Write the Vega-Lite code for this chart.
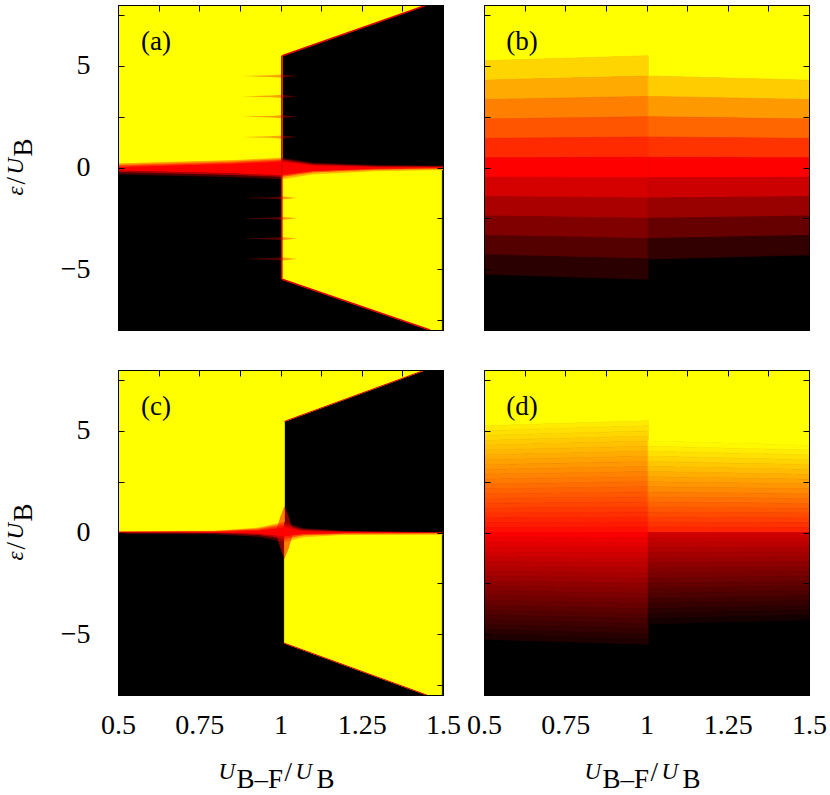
{
"$schema":"https://vega.github.io/schema/vega-lite/v6.json",
"background":"white",
"padding":{"left":2,"top":0,"right":5,"bottom":0},
"config":{"view":{"fill":"#000000","stroke":"#000000","strokeWidth":1},
"axis":{"labelFont":"Liberation Serif","labelFontSize":28,"labelColor":"#000000","labelFlush":false,"labelOverlap":false,"tickSize":-6,"tickColor":"#000000","tickWidth":1,"domain":true,"domainColor":"#000000","domainWidth":1,"grid":false}},
"datasets":{
"aFill":[
{"g":"T","x":0.5,"y":8,"y2":0,"v":1},{"g":"T","x":1.005,"y":8,"y2":0,"v":1},{"g":"T","x":1.005,"y":8,"y2":5.5,"v":1},{"g":"T","x":1.45,"y":8,"y2":8,"v":1},
{"g":"BR","x":1.005,"y":0,"y2":-5.5,"v":1},{"g":"BR","x":1.46,"y":0,"y2":-8,"v":1},{"g":"BR","x":1.496,"y":0,"y2":-8,"v":1}],
"aBand":[
{"g":"L1","x":0.5,"y":0.18,"y2":0.10,"v":0.8},{"g":"L1","x":0.85,"y":0.34,"y2":0.26,"v":0.8},{"g":"L1","x":1.005,"y":0.46,"y2":0.38,"v":0.8},
{"g":"L2","x":0.5,"y":0.10,"y2":0.02,"v":0.62},{"g":"L2","x":0.85,"y":0.26,"y2":0.18,"v":0.62},{"g":"L2","x":1.005,"y":0.38,"y2":0.30,"v":0.62},
{"g":"L3","x":0.5,"y":0.02,"y2":-0.16,"v":0.5},{"g":"L3","x":0.85,"y":0.18,"y2":-0.30,"v":0.5},{"g":"L3","x":1.005,"y":0.30,"y2":-0.40,"v":0.5},
{"g":"L4","x":0.5,"y":-0.16,"y2":-0.24,"v":0.35},{"g":"L4","x":0.85,"y":-0.30,"y2":-0.38,"v":0.35},{"g":"L4","x":1.005,"y":-0.40,"y2":-0.48,"v":0.35},
{"g":"L5","x":0.5,"y":-0.24,"y2":-0.32,"v":0.15},{"g":"L5","x":0.85,"y":-0.38,"y2":-0.46,"v":0.15},{"g":"L5","x":1.005,"y":-0.48,"y2":-0.56,"v":0.15},
{"g":"R1","x":1.005,"y":0.46,"y2":0.38,"v":0.15},{"g":"R1","x":1.1,"y":0.22,"y2":0.16,"v":0.15},{"g":"R1","x":1.3,"y":0.10,"y2":0.06,"v":0.15},{"g":"R1","x":1.5,"y":0.07,"y2":0.04,"v":0.15},
{"g":"R2","x":1.005,"y":0.38,"y2":0.30,"v":0.35},{"g":"R2","x":1.1,"y":0.16,"y2":0.10,"v":0.35},{"g":"R2","x":1.3,"y":0.06,"y2":0.02,"v":0.35},{"g":"R2","x":1.5,"y":0.04,"y2":0.01,"v":0.35},
{"g":"R3","x":1.005,"y":0.30,"y2":-0.40,"v":0.5},{"g":"R3","x":1.1,"y":0.10,"y2":-0.20,"v":0.5},{"g":"R3","x":1.3,"y":0.02,"y2":-0.08,"v":0.5},{"g":"R3","x":1.5,"y":0.01,"y2":-0.05,"v":0.5},
{"g":"R4","x":1.005,"y":-0.40,"y2":-0.48,"v":0.65},{"g":"R4","x":1.1,"y":-0.20,"y2":-0.26,"v":0.65},{"g":"R4","x":1.3,"y":-0.08,"y2":-0.12,"v":0.65},{"g":"R4","x":1.5,"y":-0.05,"y2":-0.08,"v":0.65},
{"g":"R5","x":1.005,"y":-0.48,"y2":-0.56,"v":0.85},{"g":"R5","x":1.1,"y":-0.26,"y2":-0.32,"v":0.85},{"g":"R5","x":1.3,"y":-0.12,"y2":-0.16,"v":0.85},{"g":"R5","x":1.5,"y":-0.08,"y2":-0.11,"v":0.85}],
"aSpike":[
{"g":"S1","x":0.88,"y":4.5,"y2":4.5,"v":0.45},{"g":"S1","x":0.97,"y":4.54,"y2":4.46,"v":0.45},{"g":"S1","x":1.005,"y":4.58,"y2":4.42,"v":0.45},{"g":"S1","x":1.05,"y":4.5,"y2":4.5,"v":0.45},
{"g":"S2","x":0.88,"y":3.5,"y2":3.5,"v":0.45},{"g":"S2","x":0.97,"y":3.54,"y2":3.46,"v":0.45},{"g":"S2","x":1.005,"y":3.58,"y2":3.42,"v":0.45},{"g":"S2","x":1.05,"y":3.5,"y2":3.5,"v":0.45},
{"g":"S3","x":0.88,"y":2.5,"y2":2.5,"v":0.45},{"g":"S3","x":0.97,"y":2.54,"y2":2.46,"v":0.45},{"g":"S3","x":1.005,"y":2.58,"y2":2.42,"v":0.45},{"g":"S3","x":1.05,"y":2.5,"y2":2.5,"v":0.45},
{"g":"S4","x":0.88,"y":1.5,"y2":1.5,"v":0.45},{"g":"S4","x":0.97,"y":1.54,"y2":1.46,"v":0.45},{"g":"S4","x":1.005,"y":1.58,"y2":1.42,"v":0.45},{"g":"S4","x":1.05,"y":1.5,"y2":1.5,"v":0.45},
{"g":"S5","x":0.88,"y":-1.5,"y2":-1.5,"v":0.45},{"g":"S5","x":0.97,"y":-1.46,"y2":-1.54,"v":0.45},{"g":"S5","x":1.005,"y":-1.42,"y2":-1.58,"v":0.45},{"g":"S5","x":1.05,"y":-1.5,"y2":-1.5,"v":0.45},
{"g":"S6","x":0.88,"y":-2.5,"y2":-2.5,"v":0.45},{"g":"S6","x":0.97,"y":-2.46,"y2":-2.54,"v":0.45},{"g":"S6","x":1.005,"y":-2.42,"y2":-2.58,"v":0.45},{"g":"S6","x":1.05,"y":-2.5,"y2":-2.5,"v":0.45},
{"g":"S7","x":0.88,"y":-3.5,"y2":-3.5,"v":0.45},{"g":"S7","x":0.97,"y":-3.46,"y2":-3.54,"v":0.45},{"g":"S7","x":1.005,"y":-3.42,"y2":-3.58,"v":0.45},{"g":"S7","x":1.05,"y":-3.5,"y2":-3.5,"v":0.45},
{"g":"S8","x":0.88,"y":-4.5,"y2":-4.5,"v":0.45},{"g":"S8","x":0.97,"y":-4.46,"y2":-4.54,"v":0.45},{"g":"S8","x":1.005,"y":-4.42,"y2":-4.58,"v":0.45},{"g":"S8","x":1.05,"y":-4.5,"y2":-4.5,"v":0.45}],
"aEdge":[
{"g":"V","x":1.004,"y":5.5},{"g":"V","x":1.004,"y":-5.5},
{"g":"DT","x":1.005,"y":5.5},{"g":"DT","x":1.45,"y":8},
{"g":"DB","x":1.005,"y":-5.5},{"g":"DB","x":1.46,"y":-8}],
"cFill":[
{"g":"T","x":0.5,"y":8,"y2":0,"v":1},{"g":"T","x":1.012,"y":8,"y2":0,"v":1},{"g":"T","x":1.012,"y":8,"y2":5.47,"v":1},{"g":"T","x":1.445,"y":8,"y2":8,"v":1},
{"g":"BR","x":1.012,"y":0,"y2":-5.45,"v":1},{"g":"BR","x":1.45,"y":0,"y2":-8,"v":1},{"g":"BR","x":1.496,"y":0,"y2":-8,"v":1}],
"cBand":[
{"g":"L1","x":0.5,"y":0.04,"y2":0.025,"v":0.8},{"g":"L1","x":0.8,"y":0.07,"y2":0.05,"v":0.8},{"g":"L1","x":0.93,"y":0.22,"y2":0.16,"v":0.8},{"g":"L1","x":1.012,"y":0.5,"y2":0.38,"v":0.8},
{"g":"L2","x":0.5,"y":0.025,"y2":0.01,"v":0.62},{"g":"L2","x":0.8,"y":0.05,"y2":0.03,"v":0.62},{"g":"L2","x":0.93,"y":0.16,"y2":0.10,"v":0.62},{"g":"L2","x":1.012,"y":0.38,"y2":0.26,"v":0.62},
{"g":"L3","x":0.5,"y":0.01,"y2":-0.01,"v":0.5},{"g":"L3","x":0.8,"y":0.03,"y2":-0.03,"v":0.5},{"g":"L3","x":0.93,"y":0.10,"y2":-0.08,"v":0.5},{"g":"L3","x":1.012,"y":0.26,"y2":-0.21,"v":0.5},
{"g":"L4","x":0.5,"y":-0.01,"y2":-0.025,"v":0.35},{"g":"L4","x":0.8,"y":-0.03,"y2":-0.05,"v":0.35},{"g":"L4","x":0.93,"y":-0.08,"y2":-0.14,"v":0.35},{"g":"L4","x":1.012,"y":-0.21,"y2":-0.33,"v":0.35},
{"g":"L5","x":0.5,"y":-0.025,"y2":-0.04,"v":0.15},{"g":"L5","x":0.8,"y":-0.05,"y2":-0.07,"v":0.15},{"g":"L5","x":0.93,"y":-0.14,"y2":-0.20,"v":0.15},{"g":"L5","x":1.012,"y":-0.33,"y2":-0.45,"v":0.15},
{"g":"R1","x":1.012,"y":0.5,"y2":0.38,"v":0.15},{"g":"R1","x":1.07,"y":0.2,"y2":0.14,"v":0.15},{"g":"R1","x":1.2,"y":0.06,"y2":0.04,"v":0.15},{"g":"R1","x":1.5,"y":0.0,"y2":-0.015,"v":0.15},
{"g":"R2","x":1.012,"y":0.38,"y2":0.26,"v":0.35},{"g":"R2","x":1.07,"y":0.14,"y2":0.08,"v":0.35},{"g":"R2","x":1.2,"y":0.04,"y2":0.02,"v":0.35},{"g":"R2","x":1.5,"y":-0.015,"y2":-0.03,"v":0.35},
{"g":"R3","x":1.012,"y":0.26,"y2":-0.21,"v":0.5},{"g":"R3","x":1.07,"y":0.08,"y2":-0.1,"v":0.5},{"g":"R3","x":1.2,"y":0.02,"y2":-0.06,"v":0.5},{"g":"R3","x":1.5,"y":-0.03,"y2":-0.05,"v":0.5},
{"g":"R4","x":1.012,"y":-0.21,"y2":-0.33,"v":0.65},{"g":"R4","x":1.07,"y":-0.1,"y2":-0.16,"v":0.65},{"g":"R4","x":1.2,"y":-0.06,"y2":-0.08,"v":0.65},{"g":"R4","x":1.5,"y":-0.05,"y2":-0.065,"v":0.65},
{"g":"R5","x":1.012,"y":-0.33,"y2":-0.45,"v":0.85},{"g":"R5","x":1.07,"y":-0.16,"y2":-0.22,"v":0.85},{"g":"R5","x":1.2,"y":-0.08,"y2":-0.1,"v":0.85},{"g":"R5","x":1.5,"y":-0.065,"y2":-0.08,"v":0.85}],
"cGlow":[
{"g":"VG","x":0.985,"y":0,"y2":0,"v":0.5},{"g":"VG","x":1.0,"y":0.8,"y2":-0.8,"v":0.5},{"g":"VG","x":1.012,"y":1.3,"y2":-1.3,"v":0.5},{"g":"VG","x":1.025,"y":0.8,"y2":-0.8,"v":0.5},{"g":"VG","x":1.04,"y":0,"y2":0,"v":0.5}],
"cEdge":[
{"g":"DT","x":1.012,"y":5.47},{"g":"DT","x":1.445,"y":8},
{"g":"DB","x":1.012,"y":-5.45},{"g":"DB","x":1.45,"y":-8}],
"bFill":[
{"g":"Y","x":0.5,"y":8,"y2":5.253,"v":1},{"g":"Y","x":1.005,"y":8,"y2":5.5,"v":1},{"g":"Y","x":1.005,"y":8,"y2":4.5,"v":1},{"g":"Y","x":1.5,"y":8,"y2":4.298,"v":1},
{"g":"L01","x":0.5,"y":5.253,"y2":4.298,"v":0.917},{"g":"L01","x":1.005,"y":5.5,"y2":4.5,"v":0.917},
{"g":"L02","x":0.5,"y":4.298,"y2":3.343,"v":0.833},{"g":"L02","x":1.005,"y":4.5,"y2":3.5,"v":0.833},
{"g":"L03","x":0.5,"y":3.343,"y2":2.388,"v":0.75},{"g":"L03","x":1.005,"y":3.5,"y2":2.5,"v":0.75},
{"g":"L04","x":0.5,"y":2.388,"y2":1.433,"v":0.667},{"g":"L04","x":1.005,"y":2.5,"y2":1.5,"v":0.667},
{"g":"L05","x":0.5,"y":1.433,"y2":0.478,"v":0.583},{"g":"L05","x":1.005,"y":1.5,"y2":0.5,"v":0.583},
{"g":"L06","x":0.5,"y":0.478,"y2":-0.478,"v":0.5},{"g":"L06","x":1.005,"y":0.5,"y2":-0.5,"v":0.5},
{"g":"L07","x":0.5,"y":-0.478,"y2":-1.433,"v":0.417},{"g":"L07","x":1.005,"y":-0.5,"y2":-1.5,"v":0.417},
{"g":"L08","x":0.5,"y":-1.433,"y2":-2.388,"v":0.333},{"g":"L08","x":1.005,"y":-1.5,"y2":-2.5,"v":0.333},
{"g":"L09","x":0.5,"y":-2.388,"y2":-3.343,"v":0.25},{"g":"L09","x":1.005,"y":-2.5,"y2":-3.5,"v":0.25},
{"g":"L10","x":0.5,"y":-3.343,"y2":-4.298,"v":0.167},{"g":"L10","x":1.005,"y":-3.5,"y2":-4.5,"v":0.167},
{"g":"L11","x":0.5,"y":-4.298,"y2":-5.253,"v":0.083},{"g":"L11","x":1.005,"y":-4.5,"y2":-5.5,"v":0.083},
{"g":"R1","x":1.005,"y":4.5,"y2":3.5,"v":0.9},{"g":"R1","x":1.5,"y":4.298,"y2":3.343,"v":0.9},
{"g":"R2","x":1.005,"y":3.5,"y2":2.5,"v":0.8},{"g":"R2","x":1.5,"y":3.343,"y2":2.388,"v":0.8},
{"g":"R3","x":1.005,"y":2.5,"y2":1.5,"v":0.7},{"g":"R3","x":1.5,"y":2.388,"y2":1.433,"v":0.7},
{"g":"R4","x":1.005,"y":1.5,"y2":0.5,"v":0.6},{"g":"R4","x":1.5,"y":1.433,"y2":0.478,"v":0.6},
{"g":"R5","x":1.005,"y":0.5,"y2":-0.5,"v":0.5},{"g":"R5","x":1.5,"y":0.478,"y2":-0.478,"v":0.5},
{"g":"R6","x":1.005,"y":-0.5,"y2":-1.5,"v":0.4},{"g":"R6","x":1.5,"y":-0.478,"y2":-1.433,"v":0.4},
{"g":"R7","x":1.005,"y":-1.5,"y2":-2.5,"v":0.3},{"g":"R7","x":1.5,"y":-1.433,"y2":-2.388,"v":0.3},
{"g":"R8","x":1.005,"y":-2.5,"y2":-3.5,"v":0.2},{"g":"R8","x":1.5,"y":-2.388,"y2":-3.343,"v":0.2},
{"g":"R9","x":1.005,"y":-3.5,"y2":-4.5,"v":0.1},{"g":"R9","x":1.5,"y":-3.343,"y2":-4.298,"v":0.1}],
"dFill":[
{"g":"Y","x":0.5,"y":8,"y2":5.253,"v":1},{"g":"Y","x":1.005,"y":8,"y2":5.5,"v":1},{"g":"Y","x":1.005,"y":8,"y2":4.5,"v":1},{"g":"Y","x":1.5,"y":8,"y2":4.298,"v":1},
{"g":"L01","x":0.5,"y":5.253,"y2":5.014,"v":0.960},{"g":"L01","x":1.005,"y":5.5,"y2":5.25,"v":0.960},
{"g":"L02","x":0.5,"y":5.014,"y2":4.775,"v":0.939},{"g":"L02","x":1.005,"y":5.25,"y2":5.0,"v":0.939},
{"g":"L03","x":0.5,"y":4.775,"y2":4.536,"v":0.919},{"g":"L03","x":1.005,"y":5.0,"y2":4.75,"v":0.919},
{"g":"L04","x":0.5,"y":4.536,"y2":4.298,"v":0.898},{"g":"L04","x":1.005,"y":4.75,"y2":4.5,"v":0.898},
{"g":"L05","x":0.5,"y":4.298,"y2":4.059,"v":0.878},{"g":"L05","x":1.005,"y":4.5,"y2":4.25,"v":0.878},
{"g":"L06","x":0.5,"y":4.059,"y2":3.82,"v":0.858},{"g":"L06","x":1.005,"y":4.25,"y2":4.0,"v":0.858},
{"g":"L07","x":0.5,"y":3.82,"y2":3.581,"v":0.837},{"g":"L07","x":1.005,"y":4.0,"y2":3.75,"v":0.837},
{"g":"L08","x":0.5,"y":3.581,"y2":3.343,"v":0.817},{"g":"L08","x":1.005,"y":3.75,"y2":3.5,"v":0.817},
{"g":"L09","x":0.5,"y":3.343,"y2":3.104,"v":0.796},{"g":"L09","x":1.005,"y":3.5,"y2":3.25,"v":0.796},
{"g":"L10","x":0.5,"y":3.104,"y2":2.865,"v":0.776},{"g":"L10","x":1.005,"y":3.25,"y2":3.0,"v":0.776},
{"g":"L11","x":0.5,"y":2.865,"y2":2.626,"v":0.755},{"g":"L11","x":1.005,"y":3.0,"y2":2.75,"v":0.755},
{"g":"L12","x":0.5,"y":2.626,"y2":2.388,"v":0.735},{"g":"L12","x":1.005,"y":2.75,"y2":2.5,"v":0.735},
{"g":"L13","x":0.5,"y":2.388,"y2":2.149,"v":0.714},{"g":"L13","x":1.005,"y":2.5,"y2":2.25,"v":0.714},
{"g":"L14","x":0.5,"y":2.149,"y2":1.91,"v":0.694},{"g":"L14","x":1.005,"y":2.25,"y2":2.0,"v":0.694},
{"g":"L15","x":0.5,"y":1.91,"y2":1.671,"v":0.673},{"g":"L15","x":1.005,"y":2.0,"y2":1.75,"v":0.673},
{"g":"L16","x":0.5,"y":1.671,"y2":1.433,"v":0.653},{"g":"L16","x":1.005,"y":1.75,"y2":1.5,"v":0.653},
{"g":"L17","x":0.5,"y":1.433,"y2":1.194,"v":0.633},{"g":"L17","x":1.005,"y":1.5,"y2":1.25,"v":0.633},
{"g":"L18","x":0.5,"y":1.194,"y2":0.955,"v":0.612},{"g":"L18","x":1.005,"y":1.25,"y2":1.0,"v":0.612},
{"g":"L19","x":0.5,"y":0.955,"y2":0.716,"v":0.592},{"g":"L19","x":1.005,"y":1.0,"y2":0.75,"v":0.592},
{"g":"L20","x":0.5,"y":0.716,"y2":0.478,"v":0.571},{"g":"L20","x":1.005,"y":0.75,"y2":0.5,"v":0.571},
{"g":"L21","x":0.5,"y":0.478,"y2":0.239,"v":0.551},{"g":"L21","x":1.005,"y":0.5,"y2":0.25,"v":0.551},
{"g":"L22","x":0.5,"y":0.239,"y2":0,"v":0.530},{"g":"L22","x":1.005,"y":0.25,"y2":0,"v":0.530},
{"g":"L23","x":0.5,"y":0,"y2":-0.239,"v":0.490},{"g":"L23","x":1.005,"y":0,"y2":-0.25,"v":0.490},
{"g":"L24","x":0.5,"y":-0.239,"y2":-0.478,"v":0.469},{"g":"L24","x":1.005,"y":-0.25,"y2":-0.5,"v":0.469},
{"g":"L25","x":0.5,"y":-0.478,"y2":-0.716,"v":0.449},{"g":"L25","x":1.005,"y":-0.5,"y2":-0.75,"v":0.449},
{"g":"L26","x":0.5,"y":-0.716,"y2":-0.955,"v":0.428},{"g":"L26","x":1.005,"y":-0.75,"y2":-1.0,"v":0.428},
{"g":"L27","x":0.5,"y":-0.955,"y2":-1.194,"v":0.408},{"g":"L27","x":1.005,"y":-1.0,"y2":-1.25,"v":0.408},
{"g":"L28","x":0.5,"y":-1.194,"y2":-1.433,"v":0.387},{"g":"L28","x":1.005,"y":-1.25,"y2":-1.5,"v":0.387},
{"g":"L29","x":0.5,"y":-1.433,"y2":-1.671,"v":0.367},{"g":"L29","x":1.005,"y":-1.5,"y2":-1.75,"v":0.367},
{"g":"L30","x":0.5,"y":-1.671,"y2":-1.91,"v":0.347},{"g":"L30","x":1.005,"y":-1.75,"y2":-2.0,"v":0.347},
{"g":"L31","x":0.5,"y":-1.91,"y2":-2.149,"v":0.326},{"g":"L31","x":1.005,"y":-2.0,"y2":-2.25,"v":0.326},
{"g":"L32","x":0.5,"y":-2.149,"y2":-2.388,"v":0.306},{"g":"L32","x":1.005,"y":-2.25,"y2":-2.5,"v":0.306},
{"g":"L33","x":0.5,"y":-2.388,"y2":-2.626,"v":0.285},{"g":"L33","x":1.005,"y":-2.5,"y2":-2.75,"v":0.285},
{"g":"L34","x":0.5,"y":-2.626,"y2":-2.865,"v":0.265},{"g":"L34","x":1.005,"y":-2.75,"y2":-3.0,"v":0.265},
{"g":"L35","x":0.5,"y":-2.865,"y2":-3.104,"v":0.244},{"g":"L35","x":1.005,"y":-3.0,"y2":-3.25,"v":0.244},
{"g":"L36","x":0.5,"y":-3.104,"y2":-3.343,"v":0.224},{"g":"L36","x":1.005,"y":-3.25,"y2":-3.5,"v":0.224},
{"g":"L37","x":0.5,"y":-3.343,"y2":-3.581,"v":0.203},{"g":"L37","x":1.005,"y":-3.5,"y2":-3.75,"v":0.203},
{"g":"L38","x":0.5,"y":-3.581,"y2":-3.82,"v":0.183},{"g":"L38","x":1.005,"y":-3.75,"y2":-4.0,"v":0.183},
{"g":"L39","x":0.5,"y":-3.82,"y2":-4.059,"v":0.162},{"g":"L39","x":1.005,"y":-4.0,"y2":-4.25,"v":0.162},
{"g":"L40","x":0.5,"y":-4.059,"y2":-4.298,"v":0.142},{"g":"L40","x":1.005,"y":-4.25,"y2":-4.5,"v":0.142},
{"g":"L41","x":0.5,"y":-4.298,"y2":-4.536,"v":0.122},{"g":"L41","x":1.005,"y":-4.5,"y2":-4.75,"v":0.122},
{"g":"L42","x":0.5,"y":-4.536,"y2":-4.775,"v":0.101},{"g":"L42","x":1.005,"y":-4.75,"y2":-5.0,"v":0.101},
{"g":"L43","x":0.5,"y":-4.775,"y2":-5.014,"v":0.081},{"g":"L43","x":1.005,"y":-5.0,"y2":-5.25,"v":0.081},
{"g":"L44","x":0.5,"y":-5.014,"y2":-5.253,"v":0.060},{"g":"L44","x":1.005,"y":-5.25,"y2":-5.5,"v":0.060},
{"g":"R01","x":1.005,"y":4.5,"y2":4.25,"v":0.988},{"g":"R01","x":1.5,"y":4.298,"y2":4.059,"v":0.988},
{"g":"R02","x":1.005,"y":4.25,"y2":4.0,"v":0.963},{"g":"R02","x":1.5,"y":4.059,"y2":3.82,"v":0.963},
{"g":"R03","x":1.005,"y":4.0,"y2":3.75,"v":0.939},{"g":"R03","x":1.5,"y":3.82,"y2":3.581,"v":0.939},
{"g":"R04","x":1.005,"y":3.75,"y2":3.5,"v":0.915},{"g":"R04","x":1.5,"y":3.581,"y2":3.343,"v":0.915},
{"g":"R05","x":1.005,"y":3.5,"y2":3.25,"v":0.890},{"g":"R05","x":1.5,"y":3.343,"y2":3.104,"v":0.890},
{"g":"R06","x":1.005,"y":3.25,"y2":3.0,"v":0.866},{"g":"R06","x":1.5,"y":3.104,"y2":2.865,"v":0.866},
{"g":"R07","x":1.005,"y":3.0,"y2":2.75,"v":0.841},{"g":"R07","x":1.5,"y":2.865,"y2":2.626,"v":0.841},
{"g":"R08","x":1.005,"y":2.75,"y2":2.5,"v":0.817},{"g":"R08","x":1.5,"y":2.626,"y2":2.388,"v":0.817},
{"g":"R09","x":1.005,"y":2.5,"y2":2.25,"v":0.792},{"g":"R09","x":1.5,"y":2.388,"y2":2.149,"v":0.792},
{"g":"R10","x":1.005,"y":2.25,"y2":2.0,"v":0.768},{"g":"R10","x":1.5,"y":2.149,"y2":1.91,"v":0.768},
{"g":"R11","x":1.005,"y":2.0,"y2":1.75,"v":0.743},{"g":"R11","x":1.5,"y":1.91,"y2":1.671,"v":0.743},
{"g":"R12","x":1.005,"y":1.75,"y2":1.5,"v":0.719},{"g":"R12","x":1.5,"y":1.671,"y2":1.433,"v":0.719},
{"g":"R13","x":1.005,"y":1.5,"y2":1.25,"v":0.694},{"g":"R13","x":1.5,"y":1.433,"y2":1.194,"v":0.694},
{"g":"R14","x":1.005,"y":1.25,"y2":1.0,"v":0.670},{"g":"R14","x":1.5,"y":1.194,"y2":0.955,"v":0.670},
{"g":"R15","x":1.005,"y":1.0,"y2":0.75,"v":0.646},{"g":"R15","x":1.5,"y":0.955,"y2":0.716,"v":0.646},
{"g":"R16","x":1.005,"y":0.75,"y2":0.5,"v":0.621},{"g":"R16","x":1.5,"y":0.716,"y2":0.478,"v":0.621},
{"g":"R17","x":1.005,"y":0.5,"y2":0.25,"v":0.597},{"g":"R17","x":1.5,"y":0.478,"y2":0.239,"v":0.597},
{"g":"R18","x":1.005,"y":0.25,"y2":0,"v":0.572},{"g":"R18","x":1.5,"y":0.239,"y2":0,"v":0.572},
{"g":"R19","x":1.005,"y":0,"y2":-0.25,"v":0.409},{"g":"R19","x":1.5,"y":0,"y2":-0.239,"v":0.409},
{"g":"R20","x":1.005,"y":-0.25,"y2":-0.5,"v":0.387},{"g":"R20","x":1.5,"y":-0.239,"y2":-0.478,"v":0.387},
{"g":"R21","x":1.005,"y":-0.5,"y2":-0.75,"v":0.366},{"g":"R21","x":1.5,"y":-0.478,"y2":-0.716,"v":0.366},
{"g":"R22","x":1.005,"y":-0.75,"y2":-1.0,"v":0.344},{"g":"R22","x":1.5,"y":-0.716,"y2":-0.955,"v":0.344},
{"g":"R23","x":1.005,"y":-1.0,"y2":-1.25,"v":0.322},{"g":"R23","x":1.5,"y":-0.955,"y2":-1.194,"v":0.322},
{"g":"R24","x":1.005,"y":-1.25,"y2":-1.5,"v":0.301},{"g":"R24","x":1.5,"y":-1.194,"y2":-1.433,"v":0.301},
{"g":"R25","x":1.005,"y":-1.5,"y2":-1.75,"v":0.279},{"g":"R25","x":1.5,"y":-1.433,"y2":-1.671,"v":0.279},
{"g":"R26","x":1.005,"y":-1.75,"y2":-2.0,"v":0.257},{"g":"R26","x":1.5,"y":-1.671,"y2":-1.91,"v":0.257},
{"g":"R27","x":1.005,"y":-2.0,"y2":-2.25,"v":0.236},{"g":"R27","x":1.5,"y":-1.91,"y2":-2.149,"v":0.236},
{"g":"R28","x":1.005,"y":-2.25,"y2":-2.5,"v":0.214},{"g":"R28","x":1.5,"y":-2.149,"y2":-2.388,"v":0.214},
{"g":"R29","x":1.005,"y":-2.5,"y2":-2.75,"v":0.192},{"g":"R29","x":1.5,"y":-2.388,"y2":-2.626,"v":0.192},
{"g":"R30","x":1.005,"y":-2.75,"y2":-3.0,"v":0.171},{"g":"R30","x":1.5,"y":-2.626,"y2":-2.865,"v":0.171},
{"g":"R31","x":1.005,"y":-3.0,"y2":-3.25,"v":0.149},{"g":"R31","x":1.5,"y":-2.865,"y2":-3.104,"v":0.149},
{"g":"R32","x":1.005,"y":-3.25,"y2":-3.5,"v":0.127},{"g":"R32","x":1.5,"y":-3.104,"y2":-3.343,"v":0.127},
{"g":"R33","x":1.005,"y":-3.5,"y2":-3.75,"v":0.106},{"g":"R33","x":1.5,"y":-3.343,"y2":-3.581,"v":0.106},
{"g":"R34","x":1.005,"y":-3.75,"y2":-4.0,"v":0.084},{"g":"R34","x":1.5,"y":-3.581,"y2":-3.82,"v":0.084},
{"g":"R35","x":1.005,"y":-4.0,"y2":-4.25,"v":0.062},{"g":"R35","x":1.5,"y":-3.82,"y2":-4.059,"v":0.062},
{"g":"R36","x":1.005,"y":-4.25,"y2":-4.5,"v":0.041},{"g":"R36","x":1.5,"y":-4.059,"y2":-4.298,"v":0.041}]
},
"columns":2,
"spacing":{"row":40,"column":41},
"bounds":"flush",
"concat":[
{"width":325,"height":325,
"layer":[
{"data":{"name":"aFill"},"mark":{"type":"area","clip":true,"strokeWidth":0.8},
"encoding":{"x":{"field":"x","type":"quantitative","scale":{"domain":[0.5,1.5],"nice":false,"zero":false},"axis":{"orient":"bottom","values":[0.5,0.625,0.75,0.875,1,1.125,1.25,1.375,1.5],"labels":false,"title":null,"zindex":1}},
"y":{"field":"y","type":"quantitative","stack":null,"scale":{"domain":[-8,8],"nice":false,"zero":false},"axis":{"orient":"left","values":[-7.5,-5,-2.5,0,2.5,5,7.5],"labelExpr":"datum.value % 5 == 0 ? format(datum.value, '~g') : ''","labelPadding":34,"title":null,"zindex":1}},
"y2":{"field":"y2"},
"color":{"field":"v","type":"quantitative","scale":{"domain":[0,0.5,1],"range":["#000000","#ff0000","#ffff00"],"interpolate":"rgb"},"legend":null},
"stroke":{"field":"v","type":"quantitative","scale":{"domain":[0,0.5,1],"range":["#000000","#ff0000","#ffff00"],"interpolate":"rgb"},"legend":null},
"detail":{"field":"g"}}},
{"data":{"name":"aBand"},"mark":{"type":"area","clip":true,"strokeWidth":0.6},
"encoding":{"x":{"field":"x","type":"quantitative","axis":null},"y":{"field":"y","type":"quantitative","stack":null,"axis":null},"y2":{"field":"y2"},
"color":{"field":"v","type":"quantitative","legend":null},"stroke":{"field":"v","type":"quantitative","legend":null},"detail":{"field":"g"}}},
{"data":{"name":"aSpike"},"mark":{"type":"area","clip":true,"opacity":0.35},
"encoding":{"x":{"field":"x","type":"quantitative","axis":null},"y":{"field":"y","type":"quantitative","stack":null,"axis":null},"y2":{"field":"y2"},
"color":{"field":"v","type":"quantitative","legend":null},"detail":{"field":"g"}}},
{"data":{"name":"aEdge"},"mark":{"type":"line","clip":true,"color":"#dd0000","strokeWidth":1.5},
"encoding":{"x":{"field":"x","type":"quantitative","axis":null},"y":{"field":"y","type":"quantitative","axis":null},"detail":{"field":"g"}}},
{"data":{"values":[{"t":"(a)"}]},"mark":{"type":"text","font":"Liberation Serif","fontSize":27,"align":"center","baseline":"middle","color":"#000000"},
"encoding":{"text":{"field":"t"},"x":{"datum":0.617,"type":"quantitative","axis":{"orient":"top","values":[0.5,0.625,0.75,0.875,1,1.125,1.25,1.375,1.5],"labels":false,"title":null,"zindex":1}},
"y":{"datum":6.2,"type":"quantitative","axis":{"orient":"right","values":[-7.5,-5,-2.5,0,2.5,5,7.5],"labels":false,"title":null,"zindex":1}}}},
{"data":{"values":[{}]},"mark":{"type":"text","text":"ε","font":"Liberation Serif","fontStyle":"italic","fontSize":23,"angle":270,"align":"left","baseline":"alphabetic","dx":-28,"dy":-95,"color":"#000000"},
"encoding":{"x":{"datum":0.5,"type":"quantitative","axis":null},"y":{"datum":0,"type":"quantitative","axis":null}}},
{"data":{"values":[{}]},"mark":{"type":"text","text":"/","font":"Liberation Serif","fontSize":27,"angle":270,"align":"left","baseline":"alphabetic","dx":-17,"dy":-93,"color":"#000000"},
"encoding":{"x":{"datum":0.5,"type":"quantitative","axis":null},"y":{"datum":0,"type":"quantitative","axis":null}}},
{"data":{"values":[{}]},"mark":{"type":"text","text":"U","font":"Liberation Serif","fontStyle":"italic","fontSize":23,"angle":270,"align":"left","baseline":"alphabetic","dx":-7,"dy":-95,"color":"#000000"},
"encoding":{"x":{"datum":0.5,"type":"quantitative","axis":null},"y":{"datum":0,"type":"quantitative","axis":null}}},
{"data":{"values":[{}]},"mark":{"type":"text","text":"B","font":"Liberation Serif","fontSize":27,"angle":270,"align":"left","baseline":"alphabetic","dx":11,"dy":-86,"color":"#000000"},
"encoding":{"x":{"datum":0.5,"type":"quantitative","axis":null},"y":{"datum":0,"type":"quantitative","axis":null}}}
],
"resolve":{"axis":{"x":"independent","y":"independent"}}},
{"width":325,"height":325,
"layer":[
{"data":{"name":"bFill"},"mark":{"type":"area","clip":true,"strokeWidth":0.8},
"encoding":{"x":{"field":"x","type":"quantitative","scale":{"domain":[0.5,1.5],"nice":false,"zero":false},"axis":{"orient":"bottom","values":[0.5,0.625,0.75,0.875,1,1.125,1.25,1.375,1.5],"labels":false,"title":null,"zindex":1}},
"y":{"field":"y","type":"quantitative","stack":null,"scale":{"domain":[-8,8],"nice":false,"zero":false},"axis":{"orient":"left","values":[-7.5,-5,-2.5,0,2.5,5,7.5],"labels":false,"title":null,"zindex":1}},
"y2":{"field":"y2"},
"color":{"field":"v","type":"quantitative","scale":{"domain":[0,0.5,1],"range":["#000000","#ff0000","#ffff00"],"interpolate":"rgb"},"legend":null},
"stroke":{"field":"v","type":"quantitative","scale":{"domain":[0,0.5,1],"range":["#000000","#ff0000","#ffff00"],"interpolate":"rgb"},"legend":null},
"detail":{"field":"g"}}},
{"data":{"values":[{"t":"(b)"}]},"mark":{"type":"text","font":"Liberation Serif","fontSize":27,"align":"center","baseline":"middle","color":"#000000"},
"encoding":{"text":{"field":"t"},"x":{"datum":0.617,"type":"quantitative","axis":{"orient":"top","values":[0.5,0.625,0.75,0.875,1,1.125,1.25,1.375,1.5],"labels":false,"title":null,"zindex":1}},
"y":{"datum":6.2,"type":"quantitative","axis":{"orient":"right","values":[-7.5,-5,-2.5,0,2.5,5,7.5],"labels":false,"title":null,"zindex":1}}}}
],
"resolve":{"axis":{"x":"independent","y":"independent"}}},
{"width":325,"height":325,
"layer":[
{"data":{"name":"cFill"},"mark":{"type":"area","clip":true,"strokeWidth":0.8},
"encoding":{"x":{"field":"x","type":"quantitative","scale":{"domain":[0.5,1.5],"nice":false,"zero":false},"axis":{"orient":"bottom","values":[0.5,0.625,0.75,0.875,1,1.125,1.25,1.375,1.5],"labelExpr":"(datum.value*4) % 1 == 0 ? format(datum.value, '~g') : ''","labelPadding":22,"title":null,"zindex":1}},
"y":{"field":"y","type":"quantitative","stack":null,"scale":{"domain":[-8,8],"nice":false,"zero":false},"axis":{"orient":"left","values":[-7.5,-5,-2.5,0,2.5,5,7.5],"labelExpr":"datum.value % 5 == 0 ? format(datum.value, '~g') : ''","labelPadding":34,"title":null,"zindex":1}},
"y2":{"field":"y2"},
"color":{"field":"v","type":"quantitative","scale":{"domain":[0,0.5,1],"range":["#000000","#ff0000","#ffff00"],"interpolate":"rgb"},"legend":null},
"stroke":{"field":"v","type":"quantitative","scale":{"domain":[0,0.5,1],"range":["#000000","#ff0000","#ffff00"],"interpolate":"rgb"},"legend":null},
"detail":{"field":"g"}}},
{"data":{"name":"cBand"},"mark":{"type":"area","clip":true,"strokeWidth":0.5},
"encoding":{"x":{"field":"x","type":"quantitative","axis":null},"y":{"field":"y","type":"quantitative","stack":null,"axis":null},"y2":{"field":"y2"},
"color":{"field":"v","type":"quantitative","legend":null},"stroke":{"field":"v","type":"quantitative","legend":null},"detail":{"field":"g"}}},
{"data":{"name":"cGlow"},"mark":{"type":"area","clip":true,"opacity":0.5},
"encoding":{"x":{"field":"x","type":"quantitative","axis":null},"y":{"field":"y","type":"quantitative","stack":null,"axis":null},"y2":{"field":"y2"},
"color":{"field":"v","type":"quantitative","legend":null},"detail":{"field":"g"}}},
{"data":{"name":"cEdge"},"mark":{"type":"line","clip":true,"color":"#dd0000","strokeWidth":1},
"encoding":{"x":{"field":"x","type":"quantitative","axis":null},"y":{"field":"y","type":"quantitative","axis":null},"detail":{"field":"g"}}},
{"data":{"values":[{"t":"(c)"}]},"mark":{"type":"text","font":"Liberation Serif","fontSize":27,"align":"center","baseline":"middle","color":"#000000"},
"encoding":{"text":{"field":"t"},"x":{"datum":0.617,"type":"quantitative","axis":{"orient":"top","values":[0.5,0.625,0.75,0.875,1,1.125,1.25,1.375,1.5],"labels":false,"title":null,"zindex":1}},
"y":{"datum":6.2,"type":"quantitative","axis":{"orient":"right","values":[-7.5,-5,-2.5,0,2.5,5,7.5],"labels":false,"title":null,"zindex":1}}}},
{"data":{"values":[{}]},"mark":{"type":"text","text":"ε","font":"Liberation Serif","fontStyle":"italic","fontSize":23,"angle":270,"align":"left","baseline":"alphabetic","dx":-28,"dy":-95,"color":"#000000"},
"encoding":{"x":{"datum":0.5,"type":"quantitative","axis":null},"y":{"datum":0,"type":"quantitative","axis":null}}},
{"data":{"values":[{}]},"mark":{"type":"text","text":"/","font":"Liberation Serif","fontSize":27,"angle":270,"align":"left","baseline":"alphabetic","dx":-17,"dy":-93,"color":"#000000"},
"encoding":{"x":{"datum":0.5,"type":"quantitative","axis":null},"y":{"datum":0,"type":"quantitative","axis":null}}},
{"data":{"values":[{}]},"mark":{"type":"text","text":"U","font":"Liberation Serif","fontStyle":"italic","fontSize":23,"angle":270,"align":"left","baseline":"alphabetic","dx":-7,"dy":-95,"color":"#000000"},
"encoding":{"x":{"datum":0.5,"type":"quantitative","axis":null},"y":{"datum":0,"type":"quantitative","axis":null}}},
{"data":{"values":[{}]},"mark":{"type":"text","text":"B","font":"Liberation Serif","fontSize":27,"angle":270,"align":"left","baseline":"alphabetic","dx":11,"dy":-86,"color":"#000000"},
"encoding":{"x":{"datum":0.5,"type":"quantitative","axis":null},"y":{"datum":0,"type":"quantitative","axis":null}}},
{"data":{"values":[{}]},"mark":{"type":"text","text":"U","font":"Liberation Serif","fontStyle":"italic","fontSize":23,"align":"left","baseline":"alphabetic","dx":-62,"dy":84,"color":"#000000"},
"encoding":{"x":{"datum":1,"type":"quantitative","axis":null},"y":{"datum":-8,"type":"quantitative","axis":null}}},
{"data":{"values":[{}]},"mark":{"type":"text","text":"B–F","font":"Liberation Serif","fontSize":27,"align":"left","baseline":"alphabetic","dx":-44,"dy":93,"color":"#000000"},
"encoding":{"x":{"datum":1,"type":"quantitative","axis":null},"y":{"datum":-8,"type":"quantitative","axis":null}}},
{"data":{"values":[{}]},"mark":{"type":"text","text":"/","font":"Liberation Serif","fontSize":27,"align":"left","baseline":"alphabetic","dx":4,"dy":86,"color":"#000000"},
"encoding":{"x":{"datum":1,"type":"quantitative","axis":null},"y":{"datum":-8,"type":"quantitative","axis":null}}},
{"data":{"values":[{}]},"mark":{"type":"text","text":"U","font":"Liberation Serif","fontStyle":"italic","fontSize":23,"align":"left","baseline":"alphabetic","dx":15,"dy":84,"color":"#000000"},
"encoding":{"x":{"datum":1,"type":"quantitative","axis":null},"y":{"datum":-8,"type":"quantitative","axis":null}}},
{"data":{"values":[{}]},"mark":{"type":"text","text":"B","font":"Liberation Serif","fontSize":27,"align":"left","baseline":"alphabetic","dx":36,"dy":93,"color":"#000000"},
"encoding":{"x":{"datum":1,"type":"quantitative","axis":null},"y":{"datum":-8,"type":"quantitative","axis":null}}}
],
"resolve":{"axis":{"x":"independent","y":"independent"}}},
{"width":325,"height":325,
"layer":[
{"data":{"name":"dFill"},"mark":{"type":"area","clip":true,"strokeWidth":0.8},
"encoding":{"x":{"field":"x","type":"quantitative","scale":{"domain":[0.5,1.5],"nice":false,"zero":false},"axis":{"orient":"bottom","values":[0.5,0.625,0.75,0.875,1,1.125,1.25,1.375,1.5],"labelExpr":"(datum.value*4) % 1 == 0 ? format(datum.value, '~g') : ''","labelPadding":22,"title":null,"zindex":1}},
"y":{"field":"y","type":"quantitative","stack":null,"scale":{"domain":[-8,8],"nice":false,"zero":false},"axis":{"orient":"left","values":[-7.5,-5,-2.5,0,2.5,5,7.5],"labels":false,"title":null,"zindex":1}},
"y2":{"field":"y2"},
"color":{"field":"v","type":"quantitative","scale":{"domain":[0,0.5,1],"range":["#000000","#ff0000","#ffff00"],"interpolate":"rgb"},"legend":null},
"stroke":{"field":"v","type":"quantitative","scale":{"domain":[0,0.5,1],"range":["#000000","#ff0000","#ffff00"],"interpolate":"rgb"},"legend":null},
"detail":{"field":"g"}}},
{"data":{"values":[{"t":"(d)"}]},"mark":{"type":"text","font":"Liberation Serif","fontSize":27,"align":"center","baseline":"middle","color":"#000000"},
"encoding":{"text":{"field":"t"},"x":{"datum":0.617,"type":"quantitative","axis":{"orient":"top","values":[0.5,0.625,0.75,0.875,1,1.125,1.25,1.375,1.5],"labels":false,"title":null,"zindex":1}},
"y":{"datum":6.2,"type":"quantitative","axis":{"orient":"right","values":[-7.5,-5,-2.5,0,2.5,5,7.5],"labels":false,"title":null,"zindex":1}}}},
{"data":{"values":[{}]},"mark":{"type":"text","text":"U","font":"Liberation Serif","fontStyle":"italic","fontSize":23,"align":"left","baseline":"alphabetic","dx":-62,"dy":84,"color":"#000000"},
"encoding":{"x":{"datum":1,"type":"quantitative","axis":null},"y":{"datum":-8,"type":"quantitative","axis":null}}},
{"data":{"values":[{}]},"mark":{"type":"text","text":"B–F","font":"Liberation Serif","fontSize":27,"align":"left","baseline":"alphabetic","dx":-44,"dy":93,"color":"#000000"},
"encoding":{"x":{"datum":1,"type":"quantitative","axis":null},"y":{"datum":-8,"type":"quantitative","axis":null}}},
{"data":{"values":[{}]},"mark":{"type":"text","text":"/","font":"Liberation Serif","fontSize":27,"align":"left","baseline":"alphabetic","dx":4,"dy":86,"color":"#000000"},
"encoding":{"x":{"datum":1,"type":"quantitative","axis":null},"y":{"datum":-8,"type":"quantitative","axis":null}}},
{"data":{"values":[{}]},"mark":{"type":"text","text":"U","font":"Liberation Serif","fontStyle":"italic","fontSize":23,"align":"left","baseline":"alphabetic","dx":15,"dy":84,"color":"#000000"},
"encoding":{"x":{"datum":1,"type":"quantitative","axis":null},"y":{"datum":-8,"type":"quantitative","axis":null}}},
{"data":{"values":[{}]},"mark":{"type":"text","text":"B","font":"Liberation Serif","fontSize":27,"align":"left","baseline":"alphabetic","dx":36,"dy":93,"color":"#000000"},
"encoding":{"x":{"datum":1,"type":"quantitative","axis":null},"y":{"datum":-8,"type":"quantitative","axis":null}}}
],
"resolve":{"axis":{"x":"independent","y":"independent"}}}
]
}
